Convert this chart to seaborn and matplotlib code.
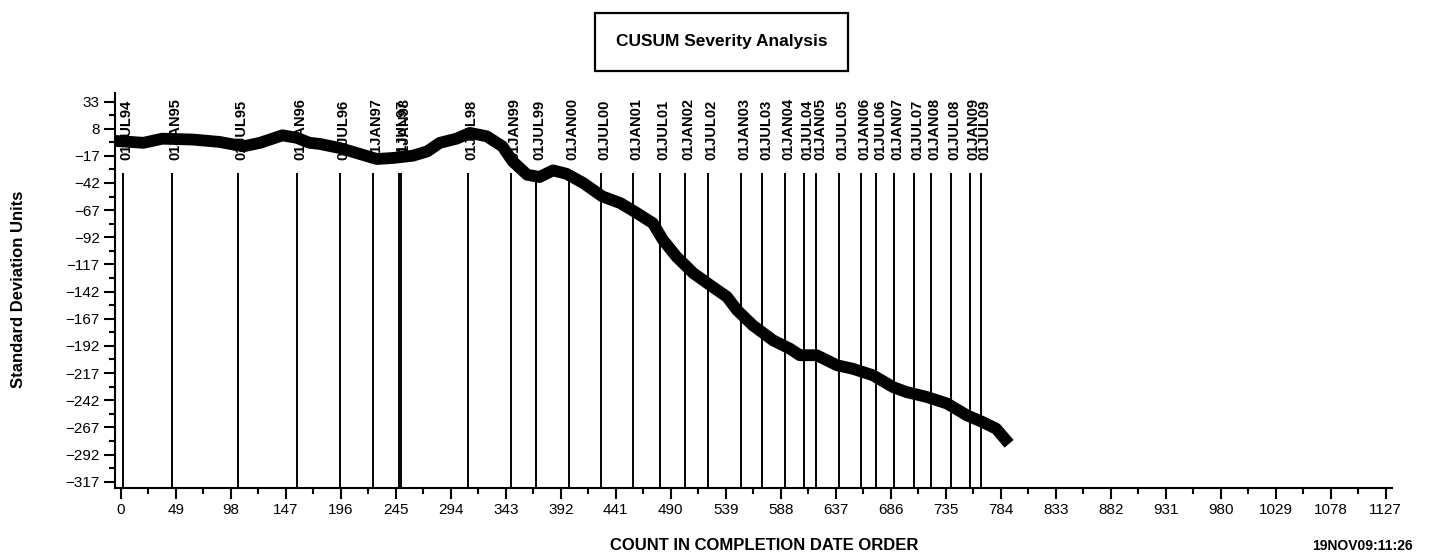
import matplotlib
matplotlib.use("Agg")
import matplotlib.pyplot as plt
import seaborn as sns
import pandas as pd
from matplotlib.patches import Rectangle
from matplotlib.ticker import FixedLocator

# CUSUM curve (count, standard deviation units)
count = [0, 20, 37, 64, 88, 109, 124, 144, 157, 168, 177, 195, 213, 228, 242,
         260, 273, 284, 299, 311, 326, 340, 349, 362, 373, 385, 397, 412, 429,
         445, 460, 474, 483, 495, 510, 525, 540, 549, 563, 581, 596, 605, 620,
         638, 652, 670, 688, 700, 718, 736, 754, 768, 780, 788]
cusum = [-3.6, -5, -1.2, -2, -4.2, -8.3, -5, 1.9, -0.5, -5, -6, -9.8, -15.3,
         -19.9, -19, -16.9, -12.9, -5.1, -1.2, 4.1, 1, -8.3, -22, -34.4, -36.5,
         -30.4, -33.5, -42, -54.4, -60.5, -69.8, -79, -94.4, -109.8, -125, -136,
         -146.8, -159, -173, -186.8, -194.5, -200.6, -200.6, -209.8, -213, -219,
         -229.9, -234.5, -239, -245, -256, -262.2, -268.3, -278]

# half-year markers (count position of first completion on each date)
date_pos = [1.5, 45.2, 104.2, 156.8, 195.4, 224.8, 248.0, 249.2, 309.4, 347.2,
            369.7, 399.1, 427.4, 455.9, 480.2, 502.2, 522.7, 552.3, 571.7,
            591.8, 608.7, 619.8, 639.9, 659.2, 673.2, 688.9, 706.5, 721.6,
            739.4, 756.3, 766.1]
date_labels = ["01JUL94", "01JAN95", "01JUL95", "01JAN96", "01JUL96", "01JAN97",
               "01JUL97", "01JAN98", "01JUL98", "01JAN99", "01JUL99", "01JAN00",
               "01JUL00", "01JAN01", "01JUL01", "01JAN02", "01JUL02", "01JAN03",
               "01JUL03", "01JAN04", "01JUL04", "01JAN05", "01JUL05", "01JAN06",
               "01JUL06", "01JAN07", "01JUL07", "01JAN08", "01JUL08", "01JAN09",
               "01JUL09"]

x_ticks = list(range(0, 1128, 49))
y_ticks = list(range(-317, 34, 25))

sns.set_style("ticks")
plt.rcParams["font.family"] = ["Liberation Sans", "DejaVu Sans"]
plt.rcParams["text.color"] = "black"
plt.rcParams["xtick.color"] = "black"
plt.rcParams["ytick.color"] = "black"
plt.rcParams["axes.labelcolor"] = "black"

df = pd.DataFrame({"count": count, "cusum": cusum})

fig = plt.figure(figsize=(14.55, 5.56), dpi=100)
ax = fig.add_axes([0.079, 0.122, 0.878, 0.711])

# vertical date lines
ax.vlines(date_pos, -323, -33, color="black", lw=1.4)
for xp, lab in zip(date_pos, date_labels):
    ax.annotate(lab, (xp, -21), xytext=(2.5, 0), textcoords="offset points",
                rotation=90, ha="center", va="bottom", fontsize=10.5,
                fontweight="bold")

sns.lineplot(data=df, x="count", y="cusum", color="black", lw=8.5, ax=ax,
             solid_joinstyle="round", solid_capstyle="projecting")

ax.set_xlim(-5.3, 1133)
ax.set_ylim(-323, 41)
ax.set_xticks(x_ticks)
ax.set_yticks(y_ticks)
ax.xaxis.set_minor_locator(FixedLocator([v + 24.5 for v in x_ticks]))
ax.yaxis.set_minor_locator(FixedLocator([v + 12.5 for v in y_ticks]))
ax.tick_params(axis="both", which="major", length=8, width=1.5, labelsize=11,
               direction="out", pad=3, colors="black")
ax.tick_params(axis="both", which="minor", length=4, width=1.5, direction="out",
               colors="black")
ax.set_xlabel("")
ax.set_ylabel("")
for s in ["top", "right"]:
    ax.spines[s].set_visible(False)
for s in ["left", "bottom"]:
    ax.spines[s].set_linewidth(1.5)
    ax.spines[s].set_color("black")

# title in a box
fig.add_artist(Rectangle((0.409, 0.872), 0.174, 0.105, transform=fig.transFigure,
                         fill=False, edgecolor="black", lw=1.6))
fig.text(0.496, 0.925, "CUSUM Severity Analysis", ha="center", va="center",
         fontsize=12.5, fontweight="bold")

fig.text(0.013, 0.48, "Standard Deviation Units", rotation=90, ha="center",
         va="center", fontsize=12, fontweight="bold")
fig.text(0.525, 0.018, "COUNT IN COMPLETION DATE ORDER", ha="center",
         va="center", fontsize=12, fontweight="bold")
fig.text(0.971, 0.018, "19NOV09:11:26", ha="right", va="center",
         fontsize=10, fontweight="bold")

fig.savefig("out.png", dpi=100)
